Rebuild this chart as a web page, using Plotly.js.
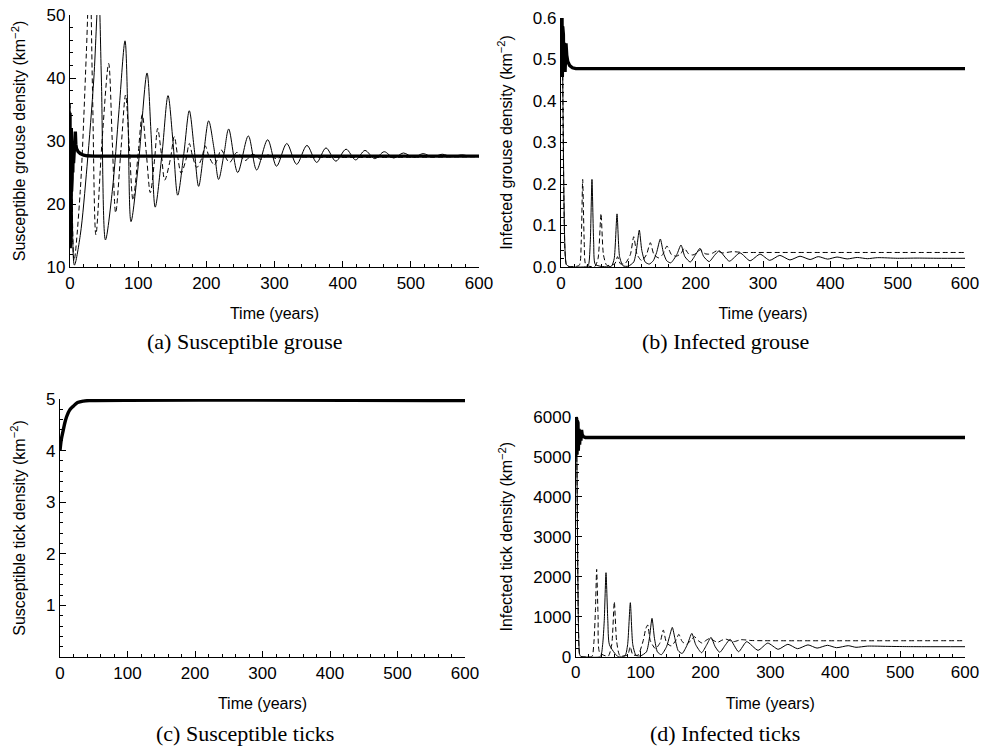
<!DOCTYPE html>
<html><head><meta charset="utf-8">
<script src="https://cdn.plot.ly/plotly-3.0.1.min.js"></script>
<style>body{margin:0;background:#fff}#chart{width:981px;height:747px}</style>
</head><body><div id="chart"></div>
<script>
// ---------- (a) Susceptible grouse ----------
const sgThickT = [0,0.3,0.6,0.9,1.2,1.5,1.9,2.3,2.7,3.1,3.6,4.1,4.6,5.2,6,7,7.8,8.5,9.5,12,15,20,25,35,600];
const sgThickY = [34.5,13,34,13.5,33,16,32,22,31,24,30,25,29,26.5,28.5,31.3,31.5,29.5,28.8,28.3,28.0,27.75,27.65,27.6,27.6];
const sgSolidT = [0,3,6.5,15,25,35,42,46,52,62,72,80.7,85,89.5,100,113,119,125,135,143.8,151,158,167,175,182,188.7,196,203.4,211,218,226,232.8,246,261.6,273.8,290,303,318,332.5,347.6,361.9,375.5,390,405,419,432.7,447,461,475,489,504,518,532,546,560,574.5,589,600];
const sgSolidY = [36,20,10.3,15,26,40,54,40,14.3,22,35,45.9,34,17.2,26,40.8,31,19.5,28,37.2,30,21.4,28,34.8,29,22.8,28,33.2,29,23.9,28,31.9,25.0,30.8,25.4,30.2,26.0,29.6,26.3,29.3,26.6,28.9,26.8,28.7,27.0,28.5,27.2,28.3,27.3,28.1,27.4,28.0,27.45,27.9,27.5,27.8,27.55,27.7];
const sgDashT = [0,3,6,15,24,29,33,38,47,56.7,62,67,75,81.5,87,92.5,100,106,112,117.8,124,128.6,134,139,147,153,158,163,170,175,180,186,193,198.5,204,211.7,217,221.5,234,245,257,268,280,291,303,314,330,600];
const sgDashY = [36,21,11,22,44,58,38,15.1,30,42.3,30,18.6,29,37.3,29,20.6,28,34.2,28,21.8,27,32.0,28,23.8,27,30.7,27.5,24.9,27,29.6,27.5,25.8,27.2,29.2,27.5,26.2,27.3,28.6,26.6,28.2,26.9,27.9,27.1,27.8,27.2,27.7,27.5,27.5];

// ---------- (b) Infected grouse ----------
const igThickT = [0,0.5,1,1.5,2,2.5,3,3.5,4,5,6,7.4,8.5,10,13,17,22,600];
const igThickY = [0.47,0.61,0.46,0.6,0.46,0.58,0.47,0.56,0.48,0.54,0.47,0.539,0.51,0.495,0.485,0.48,0.478,0.478];
const igSolidT = [0,1,2,3,4,5,6,8,12,38,41,43.5,46,48.5,51,65,75,79,83.2,87,92,100,108,112,116.3,120,125,131,137,142,147.5,152,157,163,172,178.2,184,192,200,206.4,212,220,228,235,250,265.8,280.7,295.6,310,325,340,355,370,382,396,410,425,440,455,470,500,530,560,600];
const igSolidY = [0.47,0.62,0.55,0.38,0.22,0.1,0.04,0.006,0.001,0.001,0.006,0.06,0.211,0.06,0.006,0.0005,0.002,0.02,0.128,0.025,0.003,0.002,0.012,0.04,0.089,0.04,0.012,0.007,0.015,0.035,0.0675,0.035,0.015,0.01,0.03,0.053,0.025,0.012,0.03,0.045,0.025,0.013,0.028,0.039,0.014,0.034,0.015,0.031,0.016,0.028,0.017,0.026,0.018,0.025,0.019,0.024,0.0195,0.023,0.02,0.0225,0.021,0.0215,0.021,0.021];
const igDashT = [0,1,2,3,4,5,6,8,12,27,30,32.2,34.5,37,50,55,59.4,63,68,80,84,88,95,103,108,113,120,127,132.7,138,145,151,157.4,164,171,178,183,190,196,202,207,214,220,226,231,240,255,270,290,600];
const igDashY = [0.47,0.62,0.55,0.36,0.2,0.09,0.035,0.005,0.001,0.004,0.06,0.211,0.06,0.005,0.001,0.02,0.129,0.03,0.004,0.008,0.025,0.008,0.008,0.03,0.073,0.03,0.015,0.03,0.0586,0.03,0.022,0.03,0.0506,0.03,0.026,0.032,0.045,0.031,0.029,0.034,0.042,0.032,0.031,0.034,0.039,0.034,0.037,0.035,0.035,0.035];

// ---------- (c) Susceptible ticks ----------
const stThickT = [0,2,4.9,7,9.9,14,19.7,26,34.6,45,600];
const stThickY = [4.0,4.22,4.40,4.53,4.66,4.78,4.86,4.93,4.96,4.97,4.97];

// ---------- (d) Infected ticks ----------
const itThickT = [0,0.5,1,1.5,2,2.5,3,3.5,4,5,6,7,8,9,10,12,15,600];
const itThickY = [5000,6000,5000,5950,5050,5900,5100,5850,5150,5700,5300,5600,5400,5670,5550,5500,5480,5480];
const itSolidT = [0,1,2,3,4,5,6,8,12,38,41.5,44,46.7,49.5,52,65,76,80,84.2,88,93,100,109,113.5,117.6,121.5,126,132,140,144.5,148.9,153,158,164,172,179,185,194,202,208.5,215,222,231,238,251,263.5,281,296,312,327,342,358,372,388,402,420,432,450,480,510,540,600];
const itSolidY = [5000,5600,4600,2600,1000,300,60,5,0,5,300,900,2100,900,300,5,20,300,1350,300,30,20,120,450,958,450,120,50,250,500,733,450,150,80,300,583,300,100,300,483,250,110,300,433,125,375,160,340,185,310,200,295,215,285,225,275,235,265,258,252,250,250];
const itDashT = [0,1,2,3,4,5,6,8,12,25,28,30.5,32.3,34.5,37,50,55.5,59.5,63,68,80,84,88,96,104,108,111,115,123,130,135,140,147,154,159,164,171,178,183,189,195,201,207,213,219,225,231,243,255,270,290,600];
const itDashY = [5000,5600,4600,2400,900,250,50,5,0,5,350,1200,2183,1000,100,10,300,1375,400,30,40,250,50,40,400,700,793,400,200,350,667,350,270,400,558,380,310,420,500,400,340,410,460,400,360,410,440,375,425,405,400,400];

// ---------- labels ----------
const xTitle = 'Time (years)';
const yTitles = ['Susceptible grouse density (km<sup>−2</sup>)','Infected grouse density (km<sup>−2</sup>)','Susceptible tick density (km<sup>−2</sup>)','Infected tick density (km<sup>−2</sup>)'];
const captions = ['(a) Susceptible grouse','(b) Infected grouse','(c) Susceptible ticks','(d) Infected ticks'];

const W = 981, H = 747;
const thick = {color:'#000', width:3.4};
const thin = {color:'#000', width:1, shape:'spline', smoothing:0.9};
const dashed = {color:'#000', width:1, dash:'5px,3px', shape:'spline', smoothing:0.9};

function tr(x, y, line, ax){
  return {x:x, y:y, type:'scatter', mode:'lines', line:line, xaxis:'x'+ax, yaxis:'y'+ax, hoverinfo:'skip', showlegend:false};
}
const data = [
  tr(sgDashT, sgDashY, dashed, ''), tr(sgSolidT, sgSolidY, thin, ''), tr(sgThickT, sgThickY, thick, ''),
  tr(igDashT, igDashY, Object.assign({}, dashed, {smoothing:0.6}), '2'), tr(igSolidT, igSolidY, Object.assign({}, thin, {smoothing:0.6}), '2'), tr(igThickT, igThickY, thick, '2'),
  tr(stThickT, stThickY, Object.assign({}, thick, {shape:'spline'}), '3'),
  tr(itDashT, itDashY, Object.assign({}, dashed, {smoothing:0.6}), '4'), tr(itSolidT, itSolidY, Object.assign({}, thin, {smoothing:0.6}), '4'), tr(itThickT, itThickY, thick, '4')
];

const tickFont = {family:'Liberation Sans, Arial, sans-serif', size:17, color:'#000'};
const titleFont = {family:'Liberation Sans, Arial, sans-serif', size:16, color:'#000'};
function px(x){return x/W;}
function py(y){return 1 - y/H;}
function xax(l, r, anchor){
  return {domain:[px(l), px(r)], anchor:anchor, range:[0,600], tick0:0, dtick:100, ticks:'inside', ticklen:6, tickwidth:1, tickcolor:'#000',
    minor:{dtick:20, ticks:'inside', ticklen:3, tickwidth:1, tickcolor:'#000'},
    showline:true, linecolor:'#000', linewidth:1.2, showgrid:false, zeroline:false, tickfont:tickFont,
    title:{text:xTitle, font:titleFont, standoff:16}, fixedrange:true};
}
function yax(t, b, anchor, range, dtick, minor, title, extra){
  return Object.assign({domain:[py(b), py(t)], anchor:anchor, range:range, dtick:dtick, ticks:'inside', ticklen:6, tickwidth:1, tickcolor:'#000',
    minor:{dtick:minor, ticks:'inside', ticklen:3, tickwidth:1, tickcolor:'#000'},
    showline:true, linecolor:'#000', linewidth:1.2, showgrid:false, zeroline:false, tickfont:tickFont,
    title:{text:title, font:titleFont, standoff:16}, fixedrange:true}, extra||{});
}
const capFont = {family:'Liberation Serif, Times New Roman, serif', size:22, color:'#000'};
function cap(text, x, y){ return {text:text, x:px(x), y:py(y), xref:'paper', yref:'paper', showarrow:false, font:capFont, xanchor:'center', yanchor:'middle'}; }

const layout = {
  width:W, height:H, margin:{l:0, r:0, t:0, b:0}, paper_bgcolor:'#fff', plot_bgcolor:'#fff', showlegend:false,
  xaxis: xax(70, 479, 'y'),
  yaxis: yax(15, 267, 'x', [10,50], 10, 2, yTitles[0]),
  xaxis2: xax(561, 965, 'y2'),
  yaxis2: yax(18, 267, 'x2', [0,0.6], 0.1, 0.02, yTitles[1], {tickformat:'.1f'}),
  xaxis3: xax(60, 465, 'y3'),
  yaxis3: yax(399, 657, 'x3', [0,5], 1, 0.2, yTitles[2], {tickvals:[1,2,3,4,5]}),
  xaxis4: xax(575.7, 965, 'y4'),
  yaxis4: yax(416.7, 656.7, 'x4', [0,6000], 1000, 200, yTitles[3]),
  annotations:[cap(captions[0], 245, 342), cap(captions[1], 725, 342), cap(captions[2], 245, 733), cap(captions[3], 725, 733)]
};
Plotly.newPlot('chart', data, layout, {staticPlot:true, displayModeBar:false});
</script></body></html>
